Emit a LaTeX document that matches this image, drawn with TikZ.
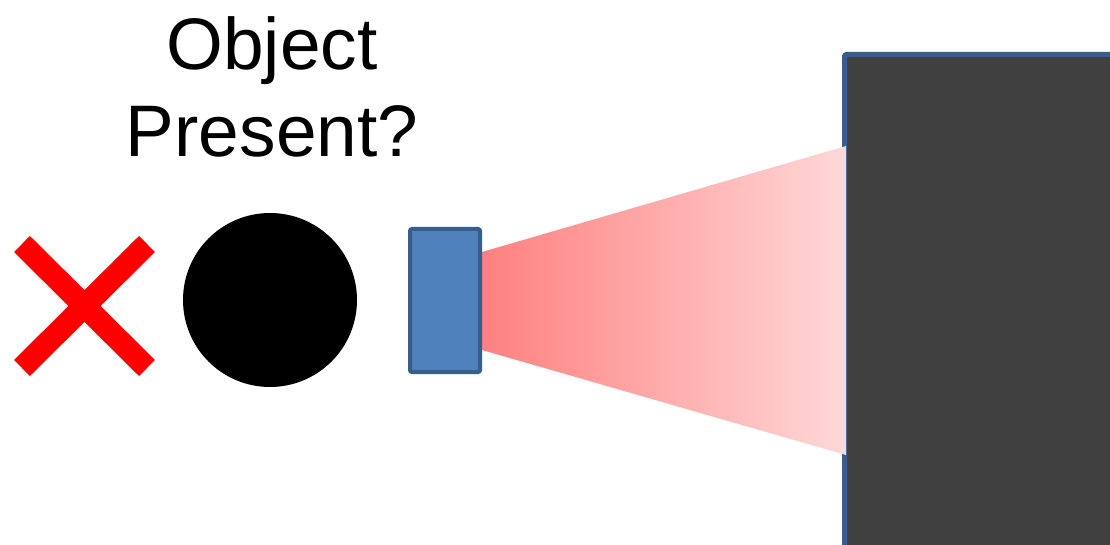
\documentclass[tikz,border=0pt]{standalone}
\usepackage{fontspec}
\setmainfont{Liberation Sans}
\usetikzlibrary{shadings}
\definecolor{sensorfill}{HTML}{4F81BD}
\definecolor{sensorline}{HTML}{385D8A}
\definecolor{wallfill}{HTML}{404040}
\definecolor{beamL}{HTML}{FF8080}
\definecolor{beamR}{HTML}{FFD8D8}
\begin{document}
\begin{tikzpicture}[x=1pt,y=-1pt,
  crossline/.style={line width=22.6pt, red, line cap=butt},
  sensorbox/.style={fill=sensorfill, draw=sensorline, line width=4pt, rounded corners=2pt},
  wallbox/.style={fill=wallfill, draw=sensorline, line width=5pt, rounded corners=2pt},
  label/.style={font=\fontsize{73}{87}\selectfont, align=center, inner sep=0pt}]
\useasboundingbox (0,0) rectangle (1110,545);
% wall
\draw[wallbox] (844.5,54.5) rectangle (1125,560);
% beam
\shade[left color=beamL, right color=beamR] (482,252) -- (846,146) -- (846,455) -- (482,350) -- cycle;
% sensor
\node[sensorbox, minimum width=70pt, minimum height=143pt, inner sep=0pt] (sensor) at (445,300.5) {};
% object
\node[circle, fill=black, minimum size=174pt, inner sep=0pt] (obj) at (270,300) {};
% cross
\coordinate (c1) at (22,244);
\coordinate (c2) at (147,368);
\coordinate (c3) at (147,244);
\coordinate (c4) at (22,368);
\draw[crossline] (c1) -- (c2);
\draw[crossline] (c3) -- (c4);
% label
\node[label] (txt) at (272,87) {Object\\Present?};
\end{tikzpicture}
\end{document}
